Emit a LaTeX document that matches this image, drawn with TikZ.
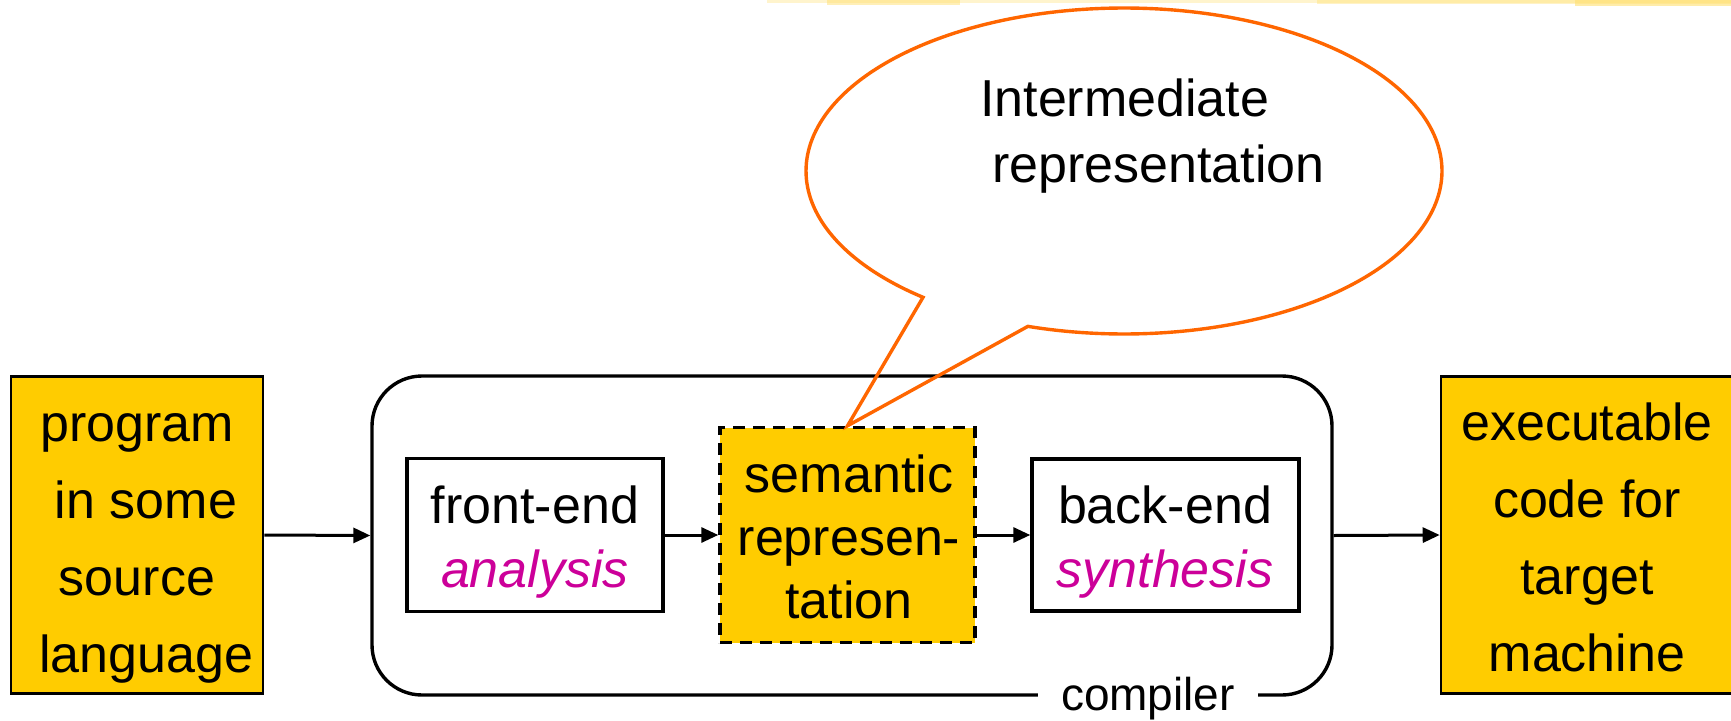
\documentclass[tikz,border=0pt]{standalone}
\usepackage{fontspec}
\setmainfont{Liberation Sans}
\usetikzlibrary{arrows.meta}
\definecolor{boxyellow}{HTML}{FFCC00}
\definecolor{txtmagenta}{HTML}{CC0099}
\definecolor{calloutorange}{HTML}{FF6600}
\definecolor{stripyellow}{HTML}{FFE070}
\newcommand\mlines[1]{\vtop{\let\\\cr\halign{\hfil##\hfil\cr#1\crcr}}}
\newcommand\llines[1]{\vtop{\let\\\cr\halign{##\hfil\cr#1\crcr}}}
\begin{document}
\begin{tikzpicture}[x=1pt,y=-1pt,
  ybox/.style={draw=black, line width=2.6pt, fill=boxyellow, inner sep=0pt},
  wbox/.style={draw=black, line width=3.4pt, fill=white, inner sep=0pt},
  sembox/.style={draw=black, line width=3.4pt, fill=boxyellow, inner sep=0pt, dash pattern=on 12pt off 8pt},
  txtbig/.style={inner sep=0pt, anchor=base, font=\fontsize{52}{77}\selectfont},
  txtmid/.style={inner sep=0pt, anchor=base, font=\fontsize{52}{64}\selectfont},
  flow/.style={line width=3pt, -{Triangle[length=17pt,width=15pt]}}
]
\useasboundingbox (0,0) rectangle (1731,720);
\fill[white] (0,0) rectangle (1731,720);
% faint strip at top
\fill[stripyellow, opacity=0.35] (767,0) rectangle (1731,3);
\fill[stripyellow, opacity=0.5] (827,0) rectangle (960,5);
\fill[stripyellow, opacity=0.4] (1317,0) rectangle (1731,4);
\fill[stripyellow, opacity=0.6] (1575,0) rectangle (1731,6);

% compiler frame
\node[draw=black, line width=3.4pt, rounded corners=50pt, minimum width=960pt, minimum height=319pt, inner sep=0pt] (comp) at (852,535.5) {};
\node[fill=white, inner xsep=23pt, inner ysep=0pt, anchor=base, font=\fontsize{46}{55}\selectfont] (compl) at (1148,710) {compiler};

% outer boxes
\node[ybox, minimum width=252pt, minimum height=317pt] (src) at (137,535) {};
\node[txtbig] (srcT) at (137,441) {\mlines{program\\\hspace*{18pt}in some\\source\\\hspace*{18pt}language}};
\node[ybox, minimum width=293pt, minimum height=317pt] (tgt) at (1587.5,535) {};
\node[txtbig] (tgtT) at (1587,440) {\mlines{executable\\code for\\target\\machine}};

% inner boxes
\node[wbox, minimum width=256pt, minimum height=153pt] (fe) at (535,535) {};
\node[txtmid] (feT) at (535,523) {\mlines{front-end\\{\color{txtmagenta}\itshape analysis}}};
\node[sembox, minimum width=255pt, minimum height=215pt] (sem) at (847.5,535) {};
\node[txtmid, font=\fontsize{52}{63}\selectfont] (semT) at (849,492) {\mlines{semantic\\represen-\\tation}};
\node[wbox, minimum width=267pt, minimum height=152pt] (be) at (1165.5,535) {};
\node[txtmid] (beT) at (1165,523) {\mlines{back-end\\{\color{txtmagenta}\itshape synthesis}}};

% connectors
\draw[flow] (src.east) -- (comp.west);
\draw[flow] (fe.east) -- (sem.west);
\draw[flow] (sem.east) -- (be.west);
\draw[flow] (comp.east) -- (tgt.west);

% callout
\draw[calloutorange, line width=3.4pt, line join=miter]
  plot[domain=129.2:467.6, samples=240, variable=\t] ({1124+318*cos(\t)},{171+163*sin(\t)})
  -- (sem.north) -- cycle;
\node[inner sep=0pt, anchor=base west, font=\fontsize{52}{66}\selectfont] (calT) at (980,116) {\llines{Intermediate\\\hspace*{12pt}representation}};
\end{tikzpicture}
\end{document}
